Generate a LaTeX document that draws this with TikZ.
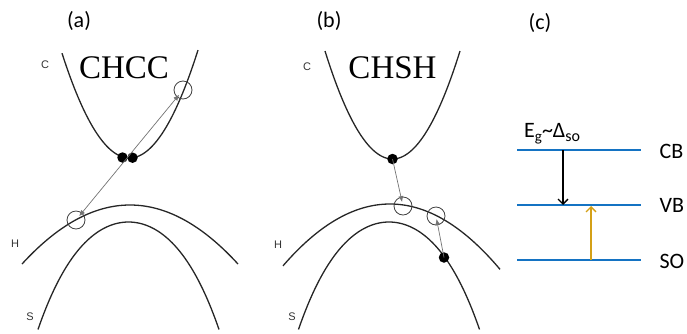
\documentclass[tikz,border=0pt]{standalone}
\usepackage{fontspec}
\setmainfont{Liberation Serif}
\newfontfamily\calfont{Carlito}
\newfontfamily\arifont{Liberation Sans}
\usetikzlibrary{arrows.meta}
\definecolor{lvlblue}{RGB}{20,115,195}
\definecolor{gold}{RGB}{212,160,23}
\tikzset{
  band/.style={line width=1.3pt, draw=black!85},
  hole/.style={circle, draw=black!75, line width=0.8pt, minimum size=18pt, inner sep=0pt},
  edot/.style={circle, fill=black, minimum size=10.5pt, inner sep=0pt},
  trans/.style={draw=black!55, line width=0.7pt},
  tip/.style={-{Latex[length=6pt,width=5pt]}},
  bandlbl/.style={font=\arifont\fontsize{11}{12}\selectfont, text=black!80},
  panel/.style={font=\calfont\fontsize{22}{24}\selectfont},
  proc/.style={font=\fontsize{33}{36}\selectfont},
  level/.style={draw=lvlblue, line width=2pt},
  lvllbl/.style={font=\calfont\fontsize{22}{24}\selectfont, anchor=west},
  barb/.style={-{Straight Barb[length=5pt,width=10pt,line width=1.3pt]}, line width=1.8pt}
}
\begin{document}
\begin{tikzpicture}[x=1pt,y=-1pt]
\useasboundingbox (0,0) rectangle (687,333);

% ---------- panel (a) ----------
\node[panel] (la) at (79,21) {(a)};
\node[bandlbl] (Ca) at (45,65) {C};
\node[bandlbl] (Ha) at (15,244) {H};
\node[bandlbl] (Sa) at (30,317) {S};
\node[proc] (chcc) at (124,68) {CHCC};
\draw[band] plot[domain=62:198,samples=90] (\x,{158-2.3*((\x-129.5)/10)^2});
\draw[band] plot[domain=22:238,samples=90] (\x,{205+0.506*((\x-130)/10)^2});
\draw[band] plot[domain=38:219,samples=90] (\x,{222+1.025*((\x-128.5)/10)^2+35*((\x-128.5)/100)^4});
\node[hole] (ha) at (76,220) {};
\node[hole] (ca) at (183,90) {};
\node[edot] (d1) at (122.5,157.5) {};
\node[edot] (d2) at (132.5,157.7) {};
\draw[trans, {Latex[length=6pt,width=5pt]}-{Latex[length=6pt,width=5pt]}, shorten <=5pt, shorten >=6pt] (ha.center) -- (ca.center);

% ---------- panel (b) ----------
\node[panel] (lb) at (329,21) {(b)};
\node[bandlbl] (Cb) at (307,67) {C};
\node[bandlbl] (Hb) at (278,245) {H};
\node[bandlbl] (Sb) at (292,317) {S};
\node[proc] (chsh) at (392.5,68) {CHSH};
\draw[band] plot[domain=325:460,samples=90] (\x,{159-2.37*((\x-392.5)/10)^2});
\draw[band] plot[domain=283:500,samples=90] (\x,{204+0.54*((\x-390)/10)^2});
\draw[band] plot[domain=298.5:479.5,samples=90] (\x,{222+1.025*((\x-389)/10)^2+35*((\x-389)/100)^4});
\node[edot] (db1) at (392.5,159) {};
\node[hole] (hb1) at (403,206) {};
\node[hole] (hb2) at (436,216) {};
\node[edot] (db2) at (444,257.5) {};
\draw[trans, tip, shorten >=4pt] (db1.center) -- (hb1.center);
\draw[trans, tip, shorten >=3pt] (db2.center) -- (hb2.center);

% ---------- panel (c) ----------
\node[panel] (lc) at (540,23) {(c)};
\coordinate (cbl) at (517,150);
\coordinate (cbr) at (641,150);
\coordinate (vbl) at (517,205);
\coordinate (vbr) at (641,205);
\coordinate (sol) at (517,260);
\coordinate (sor) at (641,260);
\draw[level] (cbl) -- (cbr);
\draw[level] (vbl) -- (vbr);
\draw[level] (sol) -- (sor);
\node[lvllbl] (cb) at (656,151) {CB};
\node[lvllbl] (vb) at (656,205.5) {VB};
\node[lvllbl] (so) at (656,261) {SO};
\node[anchor=base west, inner sep=0pt, font=\calfont\fontsize{22}{24}\selectfont] (eg) at (524,137)
  {E\raisebox{-4pt}{\fontsize{15}{15}\selectfont g}\textasciitilde Δ\raisebox{-4pt}{\fontsize{16}{16}\selectfont so}};
\coordinate (a1s) at (563,150);
\coordinate (a1e) at (563,205);
\coordinate (a2s) at (591,260);
\coordinate (a2e) at (591,206);
\draw[barb, draw=black] (a1s) -- (a1e);
\draw[barb, draw=gold] (a2s) -- (a2e);
\end{tikzpicture}
\end{document}
